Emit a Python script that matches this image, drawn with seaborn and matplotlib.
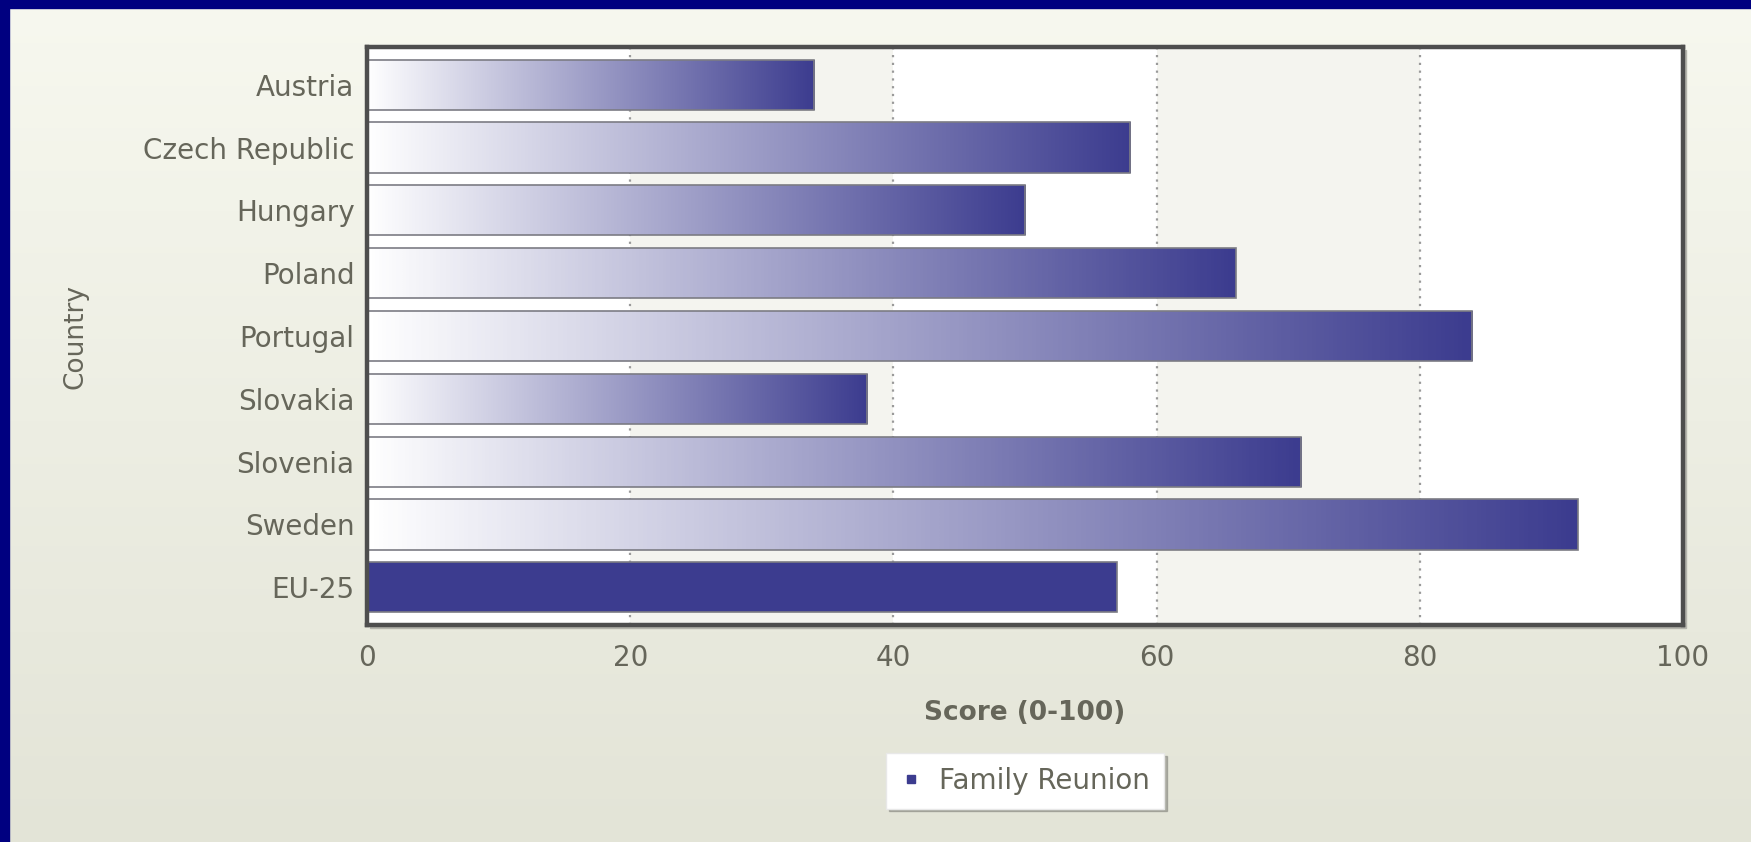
import numpy as np
import pandas as pd
import matplotlib.pyplot as plt
import seaborn as sns
from matplotlib.colors import LinearSegmentedColormap
from matplotlib.patches import Rectangle
from matplotlib.lines import Line2D

# data
countries = ['Austria', 'Czech Republic', 'Hungary', 'Poland', 'Portugal',
             'Slovakia', 'Slovenia', 'Sweden', 'EU-25']
scores = [34, 58, 50, 66, 84, 38, 71, 92, 57]
series_name = 'Family Reunion'
x_ticks = [0, 20, 40, 60, 80, 100]

navy = '#3c3c8f'
text_col = '#66665a'

sns.set_theme(style='white')
plt.rcParams['font.family'] = ['DejaVu Sans']

fig = plt.figure(figsize=(17.51, 8.42), dpi=100)

# page background: soft vertical gradient + navy edge top/left
bg = fig.add_axes([0, 0, 1, 1], zorder=-10)
bg_cmap = LinearSegmentedColormap.from_list('bg', ['#e3e4d7', '#f7f8ef'])
bg.imshow(np.linspace(0, 1, 256).reshape(-1, 1), cmap=bg_cmap, aspect='auto',
          extent=[0, 1, 0, 1], origin='lower')
bg.set_xlim(0, 1)
bg.set_ylim(0, 1)
bg.axis('off')
fig.patches.append(Rectangle((0, 1 - 8 / 842), 1, 8 / 842, transform=fig.transFigure,
                             color='#000080', zorder=5))
fig.patches.append(Rectangle((0, 0), 9 / 1751, 1, transform=fig.transFigure,
                             color='#000080', zorder=5))

ax = fig.add_axes([0.2096, 0.2577, 0.7516, 0.6865])
# subtle shadow behind the plot frame
fig.patches.append(Rectangle((0.2096 + 3 / 1751, 0.2577 - 3 / 842), 0.7516, 0.6865,
                             transform=fig.transFigure, color='#b5b5ad', zorder=-5))
ax.set_facecolor('white')

df = pd.DataFrame({'Country': countries, 'Score': scores})
sns.barplot(data=df, x='Score', y='Country', orient='h', color=navy, width=0.8,
            edgecolor='#7c7c84', linewidth=1.2, saturation=1, ax=ax, zorder=3)
bars = list(ax.containers[0])

# alternating bands and dotted grid
for lo, hi in [(20, 40), (60, 80)]:
    ax.axvspan(lo, hi, color='#f4f4ef', zorder=0, lw=0)
for t in x_ticks[1:-1]:
    ax.axvline(t, color='#9a9a9a', linestyle=(0, (1, 2.5)), linewidth=1.6, zorder=1)

# white -> navy gradient in every country bar (EU-25 stays solid)
grad_cmap = LinearSegmentedColormap.from_list('bar', ['#ffffff', navy])
grad = np.linspace(0, 1, 256).reshape(1, -1)
for patch in bars[:-1]:
    x0, y0 = patch.get_x(), patch.get_y()
    w, h = patch.get_width(), patch.get_height()
    im = ax.imshow(grad, cmap=grad_cmap, aspect='auto', zorder=2.5,
                   extent=[x0, x0 + w, y0 + h, y0], interpolation='bilinear')
    im.set_clip_path(patch)
    patch.set_facecolor('none')

ax.set_xlim(0, 100)
ax.set_ylim(8.6, -0.6)
ax.set_xticks(x_ticks)

for s in ax.spines.values():
    s.set_visible(True)
    s.set_color('#4e4e4e')
    s.set_linewidth(3.2)
    s.set_zorder(6)

ax.tick_params(axis='both', length=0, labelsize=20, labelcolor=text_col)
ax.tick_params(axis='y', pad=9)
ax.tick_params(axis='x', pad=14)

ax.set_xlabel('Score (0-100)', fontsize=19, fontweight='bold', color=text_col, labelpad=20)
ax.set_ylabel('Country', fontsize=19, color=text_col)
ax.yaxis.set_label_coords(-0.212, 0.5)

handle = Line2D([], [], marker='s', linestyle='none', color=navy, markersize=6)
leg = ax.legend([handle], [series_name], loc='upper center', bbox_to_anchor=(0.5, -0.221),
                frameon=True, fancybox=False, shadow={'color': '#8a8a82', 'alpha': 0.6},
                fontsize=20, handlelength=0.8, handletextpad=0.6, borderpad=0.5,
                borderaxespad=0, labelcolor=text_col)
leg.get_frame().set_facecolor('white')
leg.get_frame().set_edgecolor('#e8e8e8')

fig.savefig('out.png', dpi=100)
